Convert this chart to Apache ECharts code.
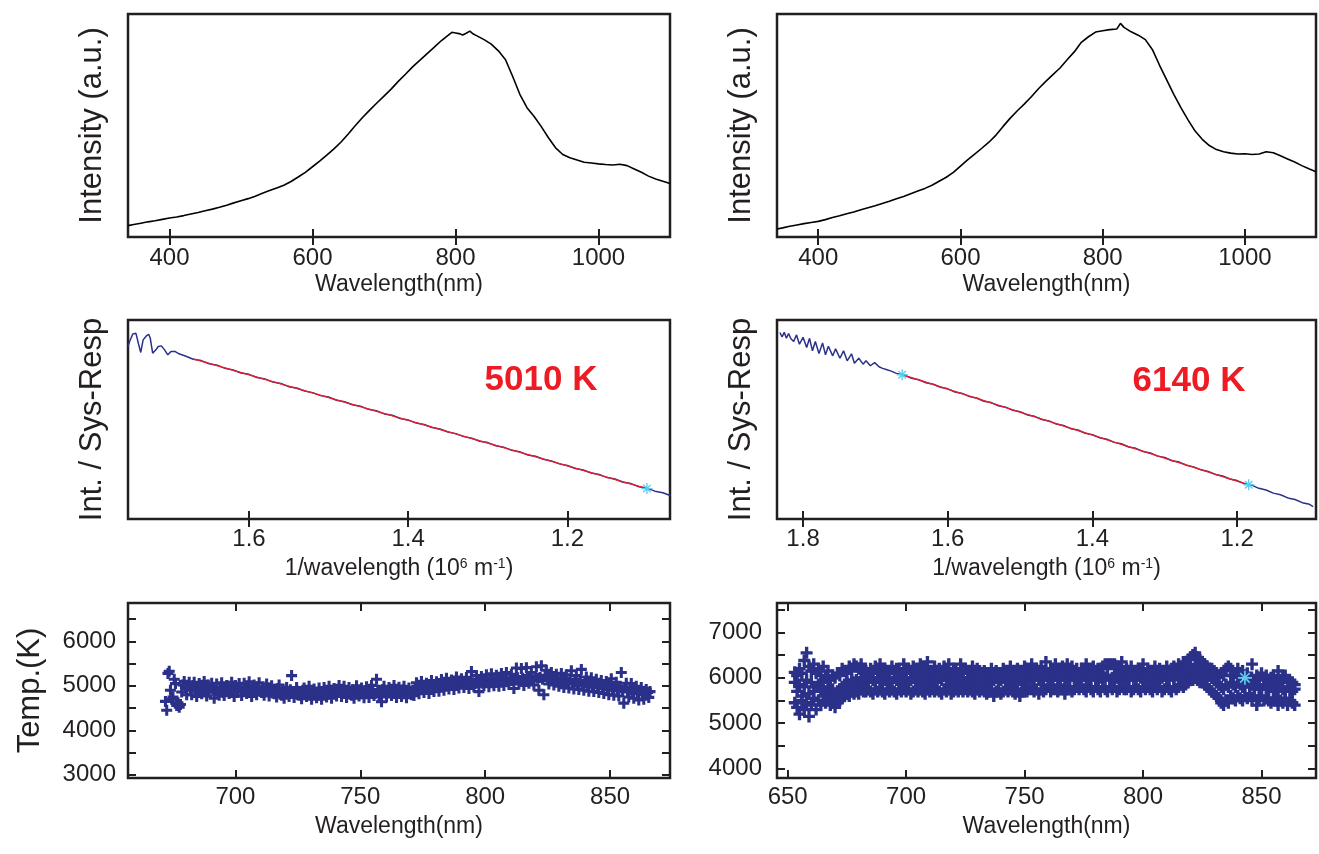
<!DOCTYPE html>
<html><head><meta charset="utf-8">
<script src="https://cdn.jsdelivr.net/npm/echarts@6/dist/echarts.min.js"></script>
<style>html,body{margin:0;padding:0;background:#fff}#c{width:1319px;height:854px}</style>
</head><body><div id="c"></div>
<script>
// ---------- DATA ----------
// Top panels: emission spectra (arbitrary intensity units)
const specL_wl  = [342,350,360,370,380,390,400,410,420,430,440,450,460,470,480,490,500,510,520,530,540,550,560,570,580,590,600,610,620,630,640,650,660,670,680,690,700,710,720,730,740,750,760,770,780,790,795,800,805,810,815,820,825,830,840,850,860,870,880,890,900,910,920,930,940,950,960,970,980,990,1000,1010,1020,1030,1040,1050,1060,1070,1080,1090,1100];
const specL_val = [5.1,5.6,6.2,6.8,7.3,7.9,8.5,9.0,9.6,10.3,11.0,11.8,12.5,13.3,14.2,15.3,16.3,17.2,18.3,19.6,20.8,22.0,23.2,24.9,26.9,29.0,31.5,34.0,36.7,39.5,42.6,46.2,50.0,53.6,56.9,60.1,63.2,66.3,69.8,73.0,76.3,79.2,82.1,85.0,88.0,90.5,91.8,91.5,91.2,90.6,91.4,92.3,91.0,90.2,88.5,86.5,83.5,79.5,72.0,64.0,58.0,54.0,49.5,44.5,40.0,37.0,35.5,34.5,33.5,33.2,32.8,32.5,32.3,32.6,32.0,30.5,29.0,27.3,26.0,25.0,24.0];
const specR_wl  = [342,350,360,370,380,390,400,410,420,430,440,450,460,470,480,490,500,510,520,530,540,550,560,570,580,590,600,610,620,630,640,650,660,670,680,690,700,710,720,730,740,750,760,770,780,790,800,810,820,825,830,840,850,860,870,880,890,900,910,920,930,940,950,960,970,980,990,1000,1010,1020,1030,1040,1050,1060,1070,1080,1090,1100];
const specR_val = [3.6,4.1,4.8,5.4,6.0,6.5,7.0,7.8,8.7,9.5,10.4,11.2,12.2,13.1,14.0,15.0,16.0,17.2,18.2,19.4,20.6,21.8,23.2,25.0,26.8,29.0,31.8,34.6,37.2,39.8,42.5,45.7,49.6,53.3,56.6,59.7,63.0,66.6,69.8,72.8,75.8,79.5,83.0,87.3,89.8,91.9,92.5,93.0,93.3,95.8,94.0,92.0,90.5,88.5,84.0,77.0,70.5,64.0,58.0,52.5,47.5,43.8,41.0,39.2,38.2,37.6,37.2,37.3,37.0,37.2,38.2,37.8,36.4,35.0,33.6,32.0,30.6,29.3];
const specTicks = [400,600,800,1000];

// Middle panels: Int./Sys-Resp vs 1/wavelength (10^6 m^-1)
const ratioL_x = [1.752,1.750,1.746,1.742,1.739,1.736,1.733,1.729,1.726,1.724,1.721,1.717,1.714,1.710,1.706,1.702,1.698,1.693,1.688,
 1.68,1.67,1.66,1.65,1.64,1.63,1.62,1.61,1.60,1.59,1.58,1.57,1.56,1.55,1.54,1.53,1.52,1.51,1.50,1.49,1.48,1.47,1.46,1.45,1.44,1.43,1.42,1.41,1.40,1.39,1.38,1.37,1.36,1.35,1.34,1.33,1.32,1.31,1.30,1.29,1.28,1.27,1.26,1.25,1.24,1.23,1.22,1.21,1.20,1.19,1.18,1.17,1.16,1.15,1.14,1.13,1.12,1.11,1.10,1.09,1.08,1.07];
const ratioL_val = [86.7,89.2,93.0,93.3,88.3,83.7,90.0,92.0,92.8,90.8,83.3,85.0,86.7,87.0,85.0,82.5,84.2,84.2,83.0,
 81.9,80.3,79.6,78.0,77.3,75.7,74.9,73.4,72.7,71.1,70.4,68.8,68.1,66.5,65.8,64.3,63.5,62.0,61.3,59.7,58.9,57.4,56.7,55.1,54.4,52.8,52.1,50.5,49.8,48.2,47.5,46.0,45.2,43.7,42.9,41.4,40.6,39.1,38.4,36.8,36.1,34.5,33.8,32.2,31.5,30.0,29.2,27.7,26.9,25.4,24.6,23.1,22.4,20.8,20.1,18.5,17.8,16.2,15.5,14.0,13.2,11.7];
const fitL_x = [1.67,1.10];
const fitL_val = [80.5,15.3];
const markL_x = [1.10];
const markL_val = [15.3];

const ratioR_x = [1.832,1.829,1.826,1.823,1.820,1.817,1.813,1.809,1.805,1.800,1.795,1.791,1.787,1.783,1.778,1.773,1.769,1.765,1.759,1.755,1.749,1.744,1.739,1.733,1.729,1.723,1.717,1.713,1.707,1.701,1.695,1.690,1.684,1.678,1.672,
 1.66,1.65,1.64,1.63,1.62,1.61,1.60,1.59,1.58,1.57,1.56,1.55,1.54,1.53,1.52,1.51,1.50,1.49,1.48,1.47,1.46,1.45,1.44,1.43,1.42,1.41,1.40,1.39,1.38,1.37,1.36,1.35,1.34,1.33,1.32,1.31,1.30,1.29,1.28,1.27,1.26,1.25,1.24,1.23,1.22,1.21,1.20,1.19,1.18,1.17,1.16,1.15,1.14,1.13,1.12,1.11,1.10,1.095];
const ratioR_val = [93.7,91.5,93.8,90.8,93.2,90.7,89.2,92.5,87.8,91.3,86.2,90.8,84.5,89.2,83.2,88.5,82.5,86.8,82.0,85.5,80.8,84.5,79.5,83.0,78.3,80.8,77.8,79.5,77.0,78.6,76.5,75.7,75.0,74.3,73.3,
 72.3,70.7,70.0,68.5,67.7,66.2,65.4,63.8,63.1,61.5,60.8,59.2,58.5,56.9,56.2,54.6,53.9,52.3,51.6,50.0,49.3,47.7,47.0,45.4,44.7,43.1,42.4,40.8,40.1,38.5,37.8,36.2,35.5,33.9,33.2,31.6,30.9,29.3,28.6,27.0,26.2,24.7,23.9,22.4,21.6,20.1,19.3,17.8,17.0,15.4,14.6,13.0,12.2,10.6,9.8,8.2,7.4,6.2];
const fitR_x = [1.663,1.184];
const fitR_val = [72.5,17.2];
const markR_x = [1.663,1.184];
const markR_val = [72.5,17.2];
const invTicksL = [1.2,1.4,1.6];
const invTicksR = [1.2,1.4,1.6,1.8];
const fitTemps = ['5010 K','6140 K'];

// Bottom panels: temperature vs wavelength (1 nm sampling)
const tempL_startA = 672;
const tempL_a = [4650,5280,4900,4750,5050,4620,4580,5020,4960,4990,
4920,5010,4880,4950,4990,4870,4940,5020,4960,4900,
4930,4880,4960,4850,4920,4990,4870,4940,5010,4900,
4950,4880,4920,4990,4860,4940,4910,4980,4870,4930,
4890,4950,4860,4920,4880,4940,4850,4900,4830,4870,
4910,4860,4820,4880,4850,4900,4830,4870,4810,4860,
4840,4790,4870,4830,4880,4810,4860,4900,4840,4870,
4920,4860,4890,4830,4870,4910,4850,4880,4820,4860,
4890,4850,4910,4870,4830,4900,4860,4920,4880,4850,
4900,4860,4880,4840,4870,4910,4850,4890,4870,4900,
4920,4960,4940,4980,4950,5000,4970,5020,4990,5030,
5000,5040,5010,5060,5020,5050,5080,5030,5070,5040,
5090,5060,5100,5070,5050,5110,5080,5060,5120,5090,
5130,5100,5080,5140,5110,5150,5120,5090,5160,5130,
5150,5180,5120,5170,5140,5190,5160,5130,5200,5170,
5190,5150,5210,5170,5140,5180,5120,5160,5100,5140,
5110,5080,5130,5060,5100,5050,5090,5030,5070,5040,
5060,5010,5050,4990,5030,4970,5010,4960,4990,4940,
4980,4930,4960,4900,4950,4880,4920,4870,4910,4860,
4890,4840,4880,4850,4870];
const tempL_startB = 672.5;
const tempL_b = [4450,5330,4700,5150,4560,4520,4860,5100,4800,5080,
4800,5080,4760,5050,4820,5100,4770,4860,5060,4720,
5040,4790,5070,4780,5010,4830,5080,4760,4870,5050,
4780,5060,4830,5090,4760,5020,4800,5070,4850,4790,
5040,4770,5000,4820,4750,5020,4790,4720,4960,4760,
5230,4740,4960,4790,4710,4950,4760,4990,4700,4930,
4730,4950,4700,4960,4750,4990,4720,4940,4770,5010,
4760,4990,4740,4960,4790,4720,5000,4770,4950,4730,
4980,4740,5010,4780,5150,4760,4640,4990,4750,4960,
4780,5010,4740,4970,4760,4990,4730,4950,4800,4780,
5070,4820,5100,4850,5060,4830,5120,4870,5090,4880,
5140,4900,5170,4930,5130,4920,5200,4950,5160,4960,
5190,4940,5320,4980,5230,4870,5210,5000,5250,4980,
5270,5000,5240,4990,5280,5010,5300,5030,5260,4940,
5400,5040,5390,5010,5410,5060,5300,5020,5430,4900,
5450,4800,5350,5040,5300,5020,5260,4990,5280,4960,
5250,4950,5340,4930,5230,4920,5370,4900,5200,4880,
5180,4870,5150,4850,5120,4830,5100,4800,5160,4790,
5080,4770,5300,4610,5060,4750,5050,4720,4990,4680,
4960,4700,4920,4740];

const tempR_start = 653;
const tempR_hi = [6120,6050,6200,6100,6380,6550,6250,6150,6300,6100,
6200,6050,6250,6000,6150,5950,6050,6000,6100,6050,
6200,6150,6100,6250,6150,6300,6250,6200,6300,6150,
6150,6100,6200,6150,6250,6100,6300,6150,6200,6100,
6150,6250,6100,6200,6150,6100,6300,6150,6200,6100,
6250,6150,6100,6300,6150,6200,6350,6150,6100,6250,
6150,6200,6100,6250,6150,6300,6100,6200,6150,6100,
6300,6150,6200,6100,6150,6250,6100,6200,6150,6050,
6150,6100,6050,6200,6100,6150,6050,6100,6200,6150,
6100,6250,6150,6100,6200,6100,6150,6250,6100,6150,
6300,6150,6200,6100,6250,6150,6350,6100,6200,6150,
6300,6150,6100,6250,6150,6300,6100,6250,6150,6200,
6100,6200,6150,6300,6100,6150,6250,6150,6200,6100,
6250,6300,6300,6300,6300,6300,6250,6150,6350,6150,
6200,6100,6250,6150,6100,6200,6150,6300,6100,6200,
6150,6100,6250,6150,6200,6100,6150,6250,6150,6200,
6250,6150,6300,6200,6350,6300,6400,6450,6500,6550,
6450,6400,6350,6300,6250,6200,6200,6150,6100,6050,
6100,6050,6200,6250,6200,6050,6100,6200,6050,6150,
6050,6100,6000,6300,5950,6050,6000,6100,5950,6050,
5950,6000,6050,5950,6150,5900,6000,6050,5950,5900,
5900,5850];
const tempR_mid = [5900,5700,5850,5600,5800,5950,5650,5900,5700,5800,
5850,5750,5900,5700,5800,5650,5750,5600,5700,5750,
5800,5850,5900,5850,5950,5900,5950,5900,6000,5950,
5900,5950,6000,5950,5900,6000,5950,5900,5950,6000,
5950,5900,6000,5950,5900,5950,6000,5950,5900,5950,
6000,5950,5900,6000,5950,5900,6050,5950,6000,5950,
5900,6000,5950,6050,5950,6000,5900,5950,6000,5950,
6000,5950,5900,5950,6000,5950,5900,6000,5950,5900,
5950,5900,5950,5900,5950,6000,5900,5950,6000,5950,
5900,6000,5950,5900,6000,5950,5900,6000,5950,6000,
6000,5950,6050,5950,6000,5950,6050,6000,5950,6000,
6050,5950,6000,6050,5950,6000,5950,6050,6000,5950,
5950,6000,6050,5950,6000,5950,6050,6000,5950,6000,
6050,6000,6050,5950,6000,6050,6000,5950,6050,6000,
6000,5950,6050,6000,5950,6050,6000,5950,6000,6050,
6000,5950,6050,6000,5950,6000,6050,6000,5950,6050,
6000,6050,6000,6100,6050,6100,6150,6200,6200,6250,
6200,6150,6150,6100,6050,6050,6000,5950,5900,5850,
5800,5750,5850,5800,5900,5850,5800,5900,5850,5800,
5850,5900,5800,5850,5750,5850,5800,5750,5850,5800,
5750,5800,5850,5750,5700,5800,5750,5700,5800,5750,
5700,5750];
const tempR_lo = [5450,5350,5200,5500,5300,5450,5150,5400,5550,5300,
5500,5400,5600,5450,5550,5400,5500,5350,5450,5500,
5550,5600,5650,5600,5700,5650,5700,5650,5750,5700,
5700,5750,5700,5650,5750,5700,5750,5700,5650,5750,
5700,5750,5700,5650,5750,5700,5750,5700,5750,5650,
5700,5750,5700,5750,5700,5650,5750,5700,5750,5700,
5750,5700,5650,5750,5700,5750,5650,5700,5750,5700,
5750,5700,5750,5700,5750,5700,5650,5750,5700,5750,
5700,5650,5700,5750,5600,5700,5750,5650,5700,5750,
5700,5750,5700,5650,5750,5600,5700,5750,5700,5750,
5750,5700,5750,5650,5750,5700,5750,5800,5700,5750,
5750,5700,5800,5750,5650,5750,5800,5700,5750,5800,
5750,5800,5750,5700,5800,5750,5700,5800,5750,5700,
5800,5750,5700,5800,5750,5800,5700,5750,5800,5750,
5750,5800,5700,5750,5800,5750,5700,5800,5750,5800,
5750,5700,5800,5750,5800,5700,5750,5800,5750,5700,
5800,5750,5800,5850,5800,5850,5900,5950,5950,6000,
5950,5900,5900,5850,5800,5750,5700,5650,5600,5550,
5450,5400,5500,5450,5600,5550,5500,5600,5550,5500,
5600,5550,5650,5500,5600,5400,5550,5600,5500,5550,
5500,5450,5550,5500,5400,5500,5450,5550,5400,5500,
5450,5400];
const markT_x = [843];
const markT_val = [6000];
const tempTicksL = [700,750,800,850];
const tempTicksR = [650,700,750,800,850];
const tempYLabelsL = [3000,4000,5000,6000];
const tempYTicksL = [3000,3500,4000,4500,5000,5500,6000,6500];
const tempYLabelsR = [4000,5000,6000,7000];
const tempYTicksR = [4000,4500,5000,5500,6000,6500,7000,7500];

// ---------- STYLE ----------
const FONT = '"Liberation Sans", Arial, Helvetica, sans-serif';
const INK = '#231f20';
const NAVY = '#2b3189';
const RED = '#ed1c24';
const CYAN = '#5ccbeb';
const PLUS = 'path://M3.6,0H6.4V3.6H10V6.4H6.4V10H3.6V6.4H0V3.6H3.6Z';
const STAR = 'path://M4.4,0H5.6V10H4.4Z M0,4.4H10V5.6H0Z M1.2,2L2,1.2L8.8,8L8,8.8Z M8,1.2L8.8,2L2,8.8L1.2,8Z';

const pairs = (xs, ys) => xs.map((x, i) => [x, ys[i]]);
const gridPairs = (start, ys) => ys.map((y, i) => [start + i, y]);

const grids = [
  {left:128, top:14,  width:542, height:223},
  {left:777, top:14,  width:539, height:223},
  {left:128, top:320, width:542, height:199},
  {left:777, top:320, width:539, height:199},
  {left:128, top:603, width:542, height:175},
  {left:777, top:603, width:539, height:175}
].map(g => Object.assign({show:true, borderColor:INK, borderWidth:2.5, backgroundColor:'transparent'}, g));

const plain = v => String(v);
const tickStyle = {color:INK, width:2};
function xAxes(gi, min, max, ticks, o) {
  const base = {type:'value', gridIndex:gi, min:min, max:max, inverse:!!o.inverse,
    axisLine:{show:false}, splitLine:{show:false}};
  return [
    Object.assign({}, base, {position:'bottom',
      axisTick:{show:true, inside:true, length:8, customValues:ticks, lineStyle:tickStyle},
      axisLabel:{show:true, customValues:ticks, margin:o.margin, fontSize:24, color:INK, fontFamily:FONT, formatter:o.fmt || plain},
      name:o.name, nameLocation:'middle', nameGap:o.gap,
      nameTextStyle:{fontSize:23, color:INK, fontFamily:FONT, verticalAlign:'top',
        rich:{sup:{fontSize:14, color:INK, fontFamily:FONT, verticalAlign:'top', lineHeight:14}}}}),
    Object.assign({}, base, {position:'top',
      axisTick:{show:true, inside:true, length:8, customValues:ticks, lineStyle:tickStyle},
      axisLabel:{show:false}})
  ];
}
function yAxesPlain(gi, name) {
  return [
    {type:'value', gridIndex:gi, position:'left', min:0, max:100,
      axisLine:{show:false}, axisTick:{show:false}, axisLabel:{show:false}, splitLine:{show:false},
      name:name, nameLocation:'middle', nameRotate:90, nameGap:20,
      nameTextStyle:{fontSize:31, color:INK, fontFamily:FONT}},
    {type:'value', gridIndex:gi, position:'right', min:0, max:100, show:false}
  ];
}
function yAxesTemp(gi, min, max, labels, ticks, margin, name) {
  const base = {type:'value', gridIndex:gi, min:min, max:max, axisLine:{show:false}, splitLine:{show:false}};
  return [
    Object.assign({}, base, {position:'left',
      axisTick:{show:true, inside:true, length:8, customValues:ticks, lineStyle:tickStyle},
      axisLabel:{show:true, customValues:labels, margin:margin, fontSize:24, color:INK, fontFamily:FONT, formatter:plain},
      name:name || '', nameLocation:'middle', nameRotate:90, nameGap:82,
      nameTextStyle:{fontSize:31, color:INK, fontFamily:FONT}}),
    Object.assign({}, base, {position:'right',
      axisTick:{show:true, inside:true, length:8, customValues:ticks, lineStyle:tickStyle},
      axisLabel:{show:false}})
  ];
}

const fmt1 = v => Number(v).toFixed(1);
const invName = '1/wavelength (10{sup|6} m{sup|-1})';
const xAxis = [].concat(
  xAxes(0, 342, 1100, specTicks, {margin:9, gap:36, name:'Wavelength(nm)'}),
  xAxes(1, 342, 1100, specTicks, {margin:9, gap:36, name:'Wavelength(nm)'}),
  xAxes(2, 1.071, 1.752, invTicksL, {inverse:true, margin:8, gap:38, name:invName, fmt:fmt1}),
  xAxes(3, 1.091, 1.836, invTicksR, {inverse:true, margin:8, gap:38, name:invName, fmt:fmt1}),
  xAxes(4, 657, 874, tempTicksL, {margin:7, gap:37, name:'Wavelength(nm)'}),
  xAxes(5, 645.5, 873, tempTicksR, {margin:7, gap:37, name:'Wavelength(nm)'})
);
const yAxis = [].concat(
  yAxesPlain(0, 'Intensity (a.u.)'),
  yAxesPlain(1, 'Intensity (a.u.)'),
  yAxesPlain(2, 'Int. / Sys-Resp'),
  yAxesPlain(3, 'Int. / Sys-Resp'),
  yAxesTemp(4, 2925, 6865, tempYLabelsL, tempYTicksL, 12, 'Temp.(K)'),
  yAxesTemp(5, 3794, 7647, tempYLabelsR, tempYTicksR, 15, '')
);

function lineS(ai, data, color, width, z) {
  return {type:'line', xAxisIndex:ai, yAxisIndex:ai, data:data, symbol:'none', showSymbol:false,
    lineStyle:{color:color, width:width}, z:z || 2, silent:true};
}
function scatS(ai, data, color, sym, size, z) {
  return {type:'scatter', xAxisIndex:ai, yAxisIndex:ai, data:data, symbol:sym, symbolSize:size,
    itemStyle:{color:color, opacity:1}, z:z || 2, silent:true};
}

const series = [
  lineS(0, pairs(specL_wl, specL_val), '#000', 1.6),
  lineS(2, pairs(specR_wl, specR_val), '#000', 1.6),
  lineS(4, pairs(ratioL_x, ratioL_val), NAVY, 1.5),
  lineS(4, pairs(fitL_x, fitL_val), RED, 1.3, 3),
  scatS(4, pairs(markL_x, markL_val), CYAN, STAR, 11, 4),
  lineS(6, pairs(ratioR_x, ratioR_val), NAVY, 1.5),
  lineS(6, pairs(fitR_x, fitR_val), RED, 1.3, 3),
  scatS(6, pairs(markR_x, markR_val), CYAN, STAR, 11, 4),
  scatS(8, gridPairs(tempL_startA, tempL_a), NAVY, PLUS, 11),
  scatS(8, gridPairs(tempL_startB, tempL_b), NAVY, PLUS, 11),
  scatS(10, gridPairs(tempR_start, tempR_hi), NAVY, PLUS, 12),
  scatS(10, gridPairs(tempR_start, tempR_mid), NAVY, PLUS, 12),
  scatS(10, gridPairs(tempR_start, tempR_lo), NAVY, PLUS, 12),
  scatS(10, pairs(markT_x, markT_val), CYAN, STAR, 14, 4)
];

const chart = echarts.init(document.getElementById('c'), null, {renderer:'canvas'});
chart.setOption({
  backgroundColor:'#fff',
  animation:false,
  grid:grids,
  xAxis:xAxis,
  yAxis:yAxis,
  series:series,
  graphic:[
    {type:'text', x:541, y:380, style:{text:fitTemps[0], font:'bold 35px "Liberation Sans", Arial, sans-serif', fill:RED, align:'center', verticalAlign:'middle'}},
    {type:'text', x:1189, y:381, style:{text:fitTemps[1], font:'bold 35px "Liberation Sans", Arial, sans-serif', fill:RED, align:'center', verticalAlign:'middle'}}
  ]
});
</script></body></html>
